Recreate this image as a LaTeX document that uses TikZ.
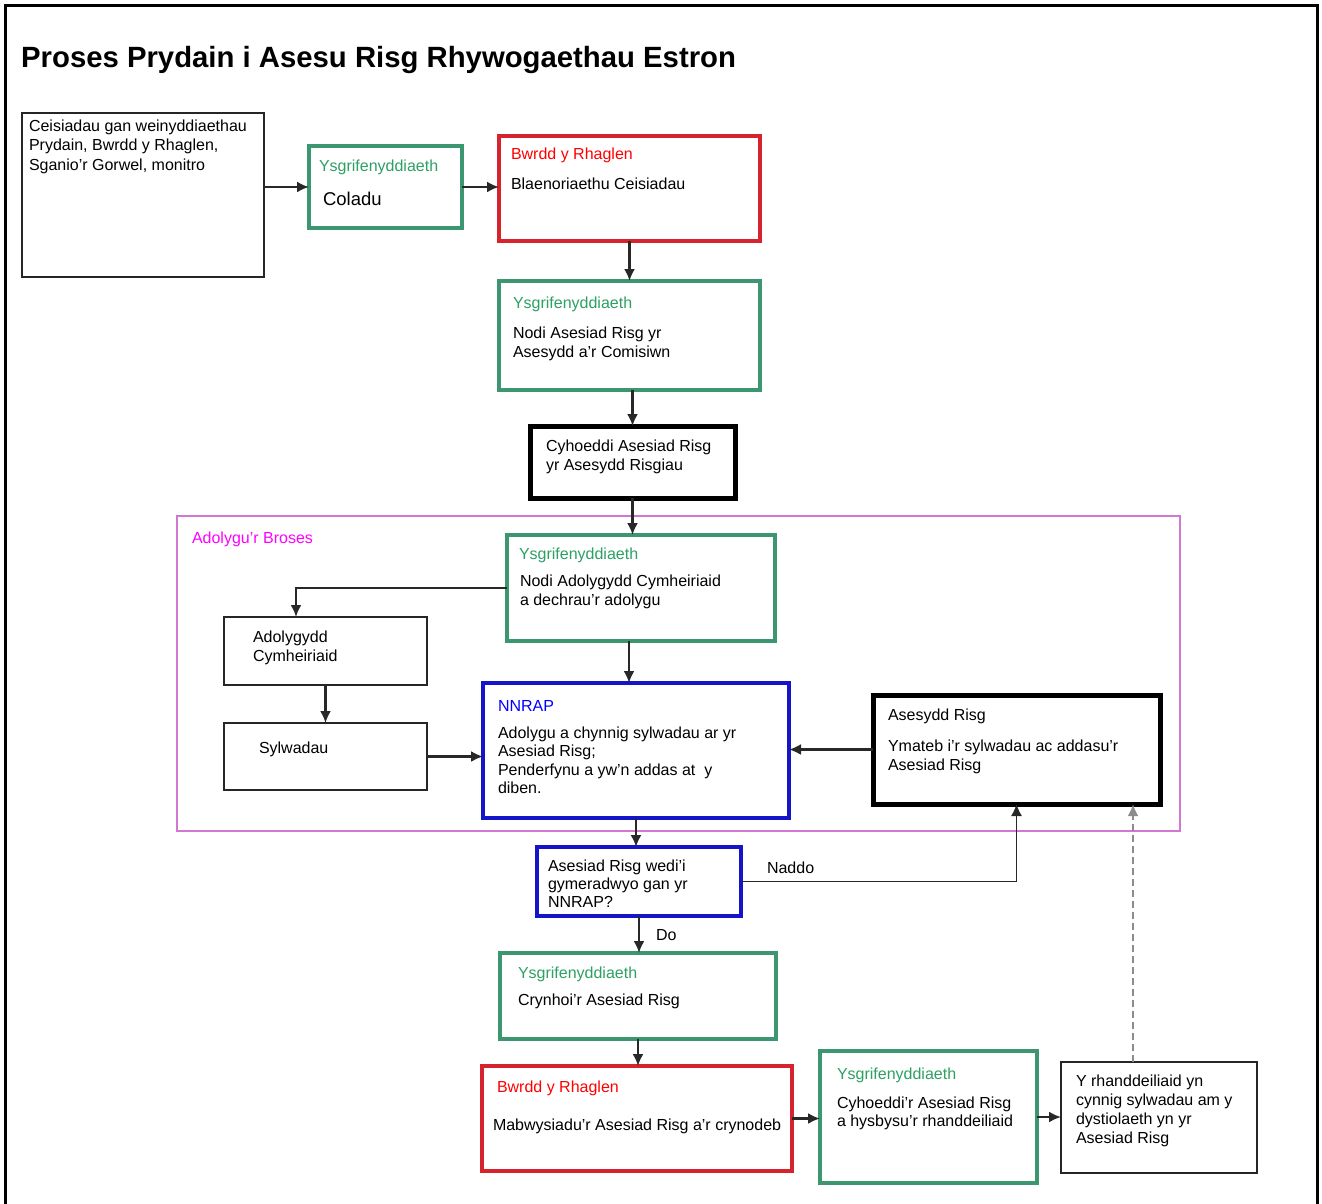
\documentclass[tikz,border=0pt]{standalone}
\usepackage{fontspec}
\setmainfont{Liberation Sans}
\usetikzlibrary{arrows.meta}
\definecolor{greenline}{RGB}{60,150,112}
\definecolor{greentext}{RGB}{45,160,100}
\definecolor{redline}{RGB}{215,35,45}
\definecolor{redtext}{RGB}{255,0,0}
\definecolor{blueline}{RGB}{20,20,200}
\definecolor{bluetext}{RGB}{0,0,255}
\definecolor{magline}{RGB}{210,120,210}
\definecolor{magtext}{RGB}{255,0,255}
\definecolor{conn}{RGB}{40,40,40}
\newcommand\bx[6]{\node[#6, minimum width={#4-#2}, minimum height={#5-#3}] (#1) at ({(#2+#4)/2},{(#3+#5)/2}) {};}
\begin{document}
\begin{tikzpicture}[x=1pt,y=-1pt,
  boxbase/.style={draw, rectangle, inner sep=0pt, outer sep=0pt},
  greenbox/.style={boxbase, draw=greenline, line width=4pt},
  redbox/.style={boxbase, draw=redline, line width=4pt},
  bluebox/.style={boxbase, draw=blueline, line width=4pt},
  thickbox/.style={boxbase, draw=black, line width=5pt},
  thinbox/.style={boxbase, draw=black!85, line width=2pt},
  magbox/.style={boxbase, draw=magline, line width=2pt},
  txt/.style={inner sep=0pt, outer sep=0pt, anchor=base west, align=left, font=\fontsize{16}{19}\selectfont},
  gtxt/.style={txt, text=greentext},
  rtxt/.style={txt, text=redtext},
  btxt/.style={txt, text=bluetext},
  mtxt/.style={txt, text=magtext},
  arr/.style={draw=conn, line width=2.2pt, -{Latex[length=12pt,width=11pt]}},
  dasharr/.style={draw=black!45, line width=2.5pt, dash pattern=on 7pt off 4pt, -{Latex[length=12pt,width=11pt]}}
]
\useasboundingbox (0,0) rectangle (1322,1203);
\fill[white] (0,0) rectangle (1322,1203);
% outer frame
\draw[line width=3pt] (5,1220) -- (5,5) -- (1317,5) -- (1317,1220);
% title
\node[inner sep=0pt, anchor=base west, font=\fontsize{29.3}{34}\selectfont\bfseries] (title) at (21,67) {Proses Prydain i Asesu Risg Rhywogaethau Estron};

% region
\bx{R}{177}{516}{1180}{831}{magbox}
\node[mtxt] (Rt) at (192,543) {Adolygu’r Broses};

% boxes
\bx{A}{22}{113}{264}{277}{thinbox}
\bx{B}{309}{146}{462}{228}{greenbox}
\bx{C}{499}{136}{760}{241}{redbox}
\bx{D}{499}{281}{760}{390}{greenbox}
\bx{E}{530}{426}{735}{498}{thickbox}
\bx{F}{507}{535}{775}{641}{greenbox}
\bx{G}{224}{617}{427}{685}{thinbox}
\bx{H}{224}{723}{427}{790}{thinbox}
\bx{I}{483}{683}{789}{818}{bluebox}
\bx{J}{873}{695}{1160}{804}{thickbox}
\bx{K}{537}{847}{741}{916}{bluebox}
\bx{L}{500}{953}{776}{1039}{greenbox}
\bx{M}{482}{1066}{792}{1171}{redbox}
\bx{N}{820}{1051}{1037}{1183}{greenbox}
\bx{O}{1061}{1062}{1257}{1173}{thinbox}

% texts (multi-line: anchored at the baseline of the last line)
\node[txt, font=\fontsize{16}{19.5}\selectfont] (At) at (29,170) {Ceisiadau gan weinyddiaethau\\Prydain, Bwrdd y Rhaglen,\\Sganio’r Gorwel, monitro};
\node[gtxt] (Bh) at (319,171) {Ysgrifenyddiaeth};
\node[txt, font=\fontsize{18.5}{22}\selectfont] (Bt) at (323,205.5) {Coladu};
\node[rtxt] (Ch) at (511,159) {Bwrdd y Rhaglen};
\node[txt] (Ct) at (511,189) {Blaenoriaethu Ceisiadau};
\node[gtxt] (Dh) at (513,308) {Ysgrifenyddiaeth};
\node[txt] (Dt) at (513,357) {Nodi Asesiad Risg yr\\Asesydd a’r Comisiwn};
\node[txt] (Et) at (546,470) {Cyhoeddi Asesiad Risg\\yr Asesydd Risgiau};
\node[gtxt] (Fh) at (519,559) {Ysgrifenyddiaeth};
\node[txt] (Ft) at (520,605) {Nodi Adolygydd Cymheiriaid\\a dechrau’r adolygu};
\node[txt] (Gt) at (253,661) {Adolygydd\\Cymheiriaid};
\node[txt] (Ht) at (259,753) {Sylwadau};
\node[btxt] (Ih) at (498,711) {NNRAP};
\node[txt, font=\fontsize{16}{18.5}\selectfont] (It) at (498,793.5) {Adolygu a chynnig sylwadau ar yr\\Asesiad Risg;\\Penderfynu a yw’n addas at~ y\\diben.};
\node[txt] (Jh) at (888,720) {Asesydd Risg};
\node[txt] (Jt) at (888,770) {Ymateb i’r sylwadau ac addasu’r\\Asesiad Risg};
\node[txt, font=\fontsize{16}{18}\selectfont] (Kt) at (548,907) {Asesiad Risg wedi’i\\gymeradwyo gan yr\\NNRAP?};
\node[gtxt] (Lh) at (518,978) {Ysgrifenyddiaeth};
\node[txt] (Lt) at (518,1005) {Crynhoi’r Asesiad Risg};
\node[rtxt] (Mh) at (497,1092) {Bwrdd y Rhaglen};
\node[txt] (Mt) at (493,1130) {Mabwysiadu’r Asesiad Risg a’r crynodeb};
\node[gtxt] (Nh) at (837,1079) {Ysgrifenyddiaeth};
\node[txt, font=\fontsize{16}{18.5}\selectfont] (Nt) at (837,1126.5) {Cyhoeddi’r Asesiad Risg\\a hysbysu’r rhanddeiliaid};
\node[txt] (Ot) at (1076,1143) {Y rhanddeiliaid yn\\cynnig sylwadau am y\\dystiolaeth yn yr\\Asesiad Risg};
\node[txt] (naddo) at (767,873) {Naddo};
\node[txt] (do) at (656,940) {Do};

% connectors
\draw[arr] (A.east |- B.west) -- (B.west);
\draw[arr] (B.east) -- (B.east -| C.west);
\draw[arr] (C.south) -- (C.south |- D.north);
\draw[arr] (E.north |- D.south) -- (E.north);
\draw[arr] (E.south) -- (E.south |- F.north);
\draw[arr] (F.west) -| ([xshift=-29.5pt]G.north);
\draw[arr] (G.south) -- (H.north);
\draw[arr] (H.east) -- (H.east -| I.west);
\draw[arr] ([xshift=-7pt]I.north |- F.south) -- ([xshift=-7pt]I.north);
\draw[arr] (J.west) -- (J.west -| I.east);
\draw[arr] (I.south) -- (I.south |- K.north);
\draw[arr, line width=1.6pt] (K.east) -| (J.south);
\draw[arr] (K.south) -- (K.south |- L.north);
\draw[arr] (L.south) -- (L.south |- M.north);
\draw[arr] (M.east) -- (M.east -| N.west);
\draw[arr] (N.east) -- (N.east -| O.west);
\draw[dasharr] ([xshift=-26pt]O.north) -- ([xshift=-26pt]O.north |- J.south);
\end{tikzpicture}
\end{document}
